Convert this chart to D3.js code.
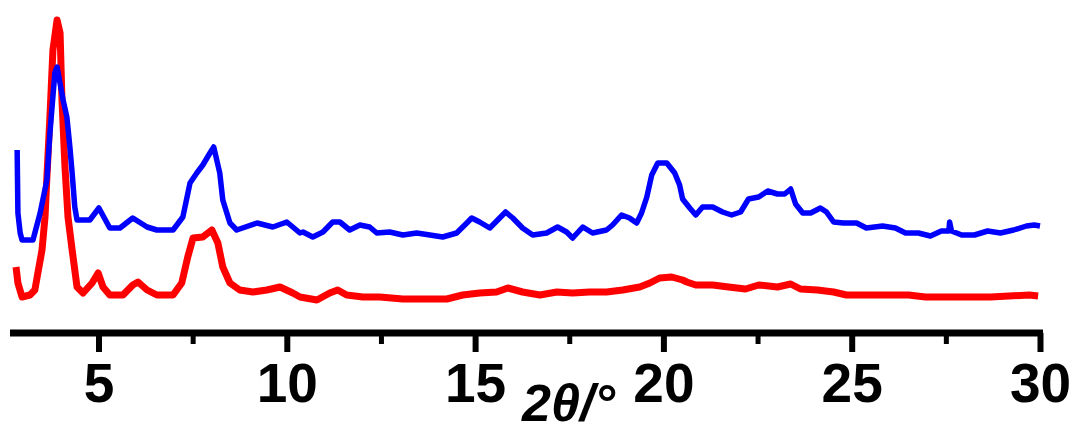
<!DOCTYPE html>
<html>
<head>
<meta charset="utf-8">
<script src="https://cdn.jsdelivr.net/npm/d3@7"></script>
<style>
  body { margin: 0; background: #fff; }
  svg { display: block; }
</style>
</head>
<body>
<svg id="chart"></svg>
<script>
// 2theta (deg) and intensity (a.u.)
const blueTheta = [2.84, 2.86, 2.92, 2.97, 3.26, 3.45, 3.63, 3.71, 3.84, 3.90, 4.06, 4.16, 4.24, 4.30, 4.37, 4.43,
  4.77, 5.01, 5.30, 5.57, 5.91, 6.29, 6.55, 6.98, 7.24, 7.43, 7.61, 7.77, 7.96, 8.06, 8.22, 8.30, 8.49, 8.67,
  9.21, 9.63, 10.00, 10.35, 10.43, 10.69, 10.96, 11.22, 11.41, 11.67, 11.94, 12.20, 12.39, 12.73, 13.08, 13.45,
  13.80, 14.14, 14.51, 14.78, 14.91, 15.12, 15.39, 15.60, 15.81, 16.00, 16.26, 16.53, 16.90, 17.19, 17.43, 17.59,
  17.86, 18.12, 18.49, 18.65, 18.89, 19.10, 19.29, 19.42, 19.56, 19.69, 19.85, 20.09, 20.30, 20.43, 20.51, 20.70,
  20.86, 21.04, 21.31, 21.57, 21.81, 22.05, 22.26, 22.53, 22.77, 23.03, 23.22, 23.38, 23.51, 23.70, 23.91, 24.17,
  24.33, 24.52, 24.78, 25.13, 25.39, 25.82, 26.16, 26.43, 26.77, 27.09, 27.38, 27.58, 27.60, 27.65, 27.92, 28.26,
  28.61, 28.95, 29.30, 29.64, 29.85, 30.00];
const blueInt = [185, 122, 102, 95, 95, 122, 155, 202, 262, 268, 235, 218, 188, 162, 128, 115,
  115, 127, 107, 107, 117, 108, 105, 105, 118, 152, 162, 170, 182, 188, 162, 135, 112, 105,
  112, 108, 113, 102, 103, 98, 103, 113, 113, 105, 110, 108, 102, 103, 100, 102,
  100, 98, 102, 112, 117, 113, 107, 115, 123, 117, 107, 100, 102, 108, 103, 97,
  108, 102, 105, 110, 120, 117, 112, 122, 138, 160, 172, 172, 162, 150, 136, 127,
  120, 128, 128, 123, 120, 123, 136, 138, 144, 141, 141, 146, 131, 122, 122, 127,
  123, 113, 112, 112, 107, 109, 107, 102, 102, 99, 104, 104, 113, 104, 100, 100,
  104, 102, 105, 109, 110, 109];

const redTheta = [2.81, 2.86, 2.97, 3.18, 3.31, 3.39, 3.50, 3.58, 3.63, 3.71, 3.79, 3.90, 3.98, 4.03, 4.11, 4.19,
  4.30, 4.43, 4.59, 4.83, 4.99, 5.12, 5.30, 5.65, 5.91, 6.05, 6.29, 6.55, 6.98, 7.21, 7.37, 7.51, 7.77, 8.01,
  8.17, 8.30, 8.49, 8.75, 9.10, 9.47, 9.82, 10.16, 10.35, 10.80, 11.14, 11.35, 11.59, 12.02, 12.47, 13.08,
  13.80, 14.25, 14.67, 15.12, 15.57, 15.87, 16.26, 16.72, 17.17, 17.59, 18.04, 18.49, 18.92, 19.37, 19.64,
  19.90, 20.22, 20.51, 20.62, 20.86, 21.31, 21.73, 22.18, 22.53, 23.03, 23.38, 23.64, 24.09, 24.52, 24.86,
  25.66, 26.51, 26.96, 27.81, 28.69, 29.72, 29.95];
const redInt = [68, 52, 38, 40, 45, 62, 85, 118, 158, 218, 285, 315, 302, 235, 168, 118,
  85, 48, 42, 52, 62, 48, 40, 40, 50, 53, 45, 40, 40, 52, 78, 97, 98, 105,
  92, 68, 52, 45, 43, 45, 48, 42, 38, 35, 42, 45, 40, 38, 38, 36,
  36, 36, 40, 42, 43, 47, 43, 40, 43, 42, 43, 43, 45, 48, 52,
  57, 58, 55, 53, 50, 50, 48, 46, 50, 48, 51, 46, 45, 43, 40,
  40, 40, 38, 38, 38, 40, 39];

const xTicks = [5, 10, 15, 20, 25, 30];
const minorTicks = [7.5, 12.5, 17.5, 22.5, 27.5];
const xLabel = "2θ/°";

const width = 1073, height = 433;
const axisY = 333;

const svg = d3.select("#chart").attr("width", width).attr("height", height);

const x = d3.scaleLinear().domain([2.65, 30]).range([10, 1040]);
const y = d3.scaleLinear().domain([0, 335]).range([335, 0]);

const line = d3.line()
  .x((d) => x(d[0]))
  .y((d) => y(d[1]));

const red = redTheta.map((t, i) => [t, redInt[i]]);
const blue = blueTheta.map((t, i) => [t, blueInt[i]]);

svg.append("path")
  .datum(red)
  .attr("d", line)
  .attr("fill", "none")
  .attr("stroke", "#ff0000")
  .attr("stroke-width", 7)
  .attr("stroke-linejoin", "round");

svg.append("path")
  .datum(blue)
  .attr("d", line)
  .attr("fill", "none")
  .attr("stroke", "#0000ff")
  .attr("stroke-width", 5.5)
  .attr("stroke-linejoin", "round");

// minor ticks
const minorAxis = svg.append("g")
  .attr("transform", `translate(0,${axisY})`)
  .call(d3.axisBottom(x).tickValues(minorTicks).tickSize(11).tickSizeOuter(0).tickFormat(""));
minorAxis.select(".domain").remove();
minorAxis.selectAll(".tick line").attr("stroke", "#000").attr("stroke-width", 5);

// major ticks + labels
const xAxis = svg.append("g")
  .attr("transform", `translate(0,${axisY})`)
  .call(d3.axisBottom(x).tickValues(xTicks).tickSize(19).tickSizeOuter(0).tickPadding(0));

xAxis.select(".domain")
  .attr("stroke", "#000")
  .attr("stroke-width", 7)
  .attr("d", `M${x.range()[0]},0H${x.range()[1] + 3}`);

xAxis.selectAll(".tick line").attr("stroke", "#000").attr("stroke-width", 6);

xAxis.selectAll(".tick text")
  .attr("y", 69)
  .attr("dy", 0)
  .attr("fill", "#000")
  .attr("font-family", "'Liberation Sans', Arial, sans-serif")
  .attr("font-weight", "bold")
  .attr("font-size", 55);

svg.append("text")
  .attr("x", 522)
  .attr("y", 421)
  .attr("font-family", "'Liberation Sans', Arial, sans-serif")
  .attr("font-weight", "bold")
  .attr("font-style", "italic")
  .attr("font-size", 52)
  .attr("fill", "#000")
  .text(xLabel);
</script>
</body>
</html>
